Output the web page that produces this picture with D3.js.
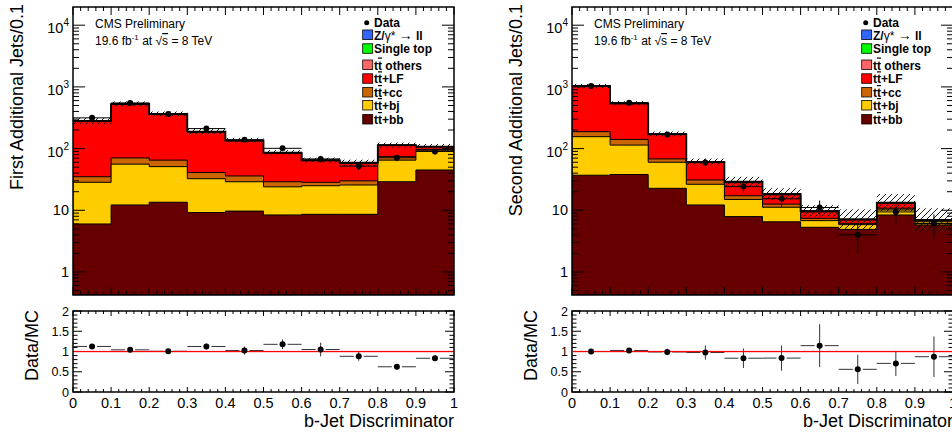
<!DOCTYPE html>
<html><head><meta charset="utf-8">
<script src="https://cdn.jsdelivr.net/npm/d3@7"></script>
<style>
body{margin:0;background:#fff}
svg{display:block}
text{font-family:"Liberation Sans",Arial,Helvetica,sans-serif}
</style>
</head><body>
<svg id="c" width="952" height="435"></svg>
<script>
// ---------- data ----------
const binLow = [0.0, 0.1, 0.2, 0.3, 0.4, 0.5, 0.6, 0.7, 0.8, 0.9];
const binWidth = 0.1;
const xTickLabels = ["0","0.1","0.2","0.3","0.4","0.5","0.6","0.7","0.8","0.9","1"];
const yTickValues = [1, 10, 100, 1000, 10000];
const yTickLabels = [["1",""],["10",""],["10","2"],["10","3"],["10","4"]];
const ratioTickValues = [0, 0.5, 1, 1.5, 2];
const ratioTickLabels = ["0","0.5","1","1.5","2"];
const processNames = ["tt+bb","tt+bj","tt+cc","tt+LF","tt others","Single top","Z/γ* → ll"];
const processColors = ["#660000","#ffcc00","#cc6600","#ff0000","#ff6666","#00ff00","#3366ff"];

// First additional jets
const first_bb     = [6.0, 12.2, 13.5, 9.2, 9.7, 8.4, 8.6, 8.6, 29, 45];
const first_bj     = [22.4, 43.8, 37.5, 23.3, 19.3, 15.6, 16.4, 17.1, 36, 47];
const first_cc     = [6.6, 14.5, 14.0, 8.5, 7.0, 5.0, 3.4, 4.3, 9, 5];
const first_lf     = [239, 448, 291, 143, 97, 55, 35, 27.8, 37.8, 9.2];
const first_others = [3.5, 5.5, 4, 2.2, 1.6, 1.0, 0.8, 0.7, 1.2, 1.0];
const first_st     = [1.8, 3, 2, 1.2, 0.9, 0.6, 0.5, 0.4, 0.8, 0.6];
const first_z      = [0.7, 1, 0.8, 0.4, 0.3, 0.2, 0.1, 0.1, 0.2, 0.2];
const first_data   = [315, 550, 365, 211, 139, 101, 68, 52, 71, 90];
const first_dataErr = [17.7, 23.5, 19.1, 14.5, 11.8, 10, 8.2, 7.2, 8.4, 9.5];
const first_ratioErr = [0.06, 0.04, 0.05, 0.07, 0.1, 0.12, 0.17, 0.11, 0.07, 0.07];
const first_mcUnc  = [0.12, 0.1, 0.1, 0.11, 0.1, 0.1, 0.1, 0.12, 0.1, 0.1];

// Second additional jets
const second_bb     = [37, 38, 22.7, 12.2, 7.9, 6.5, 5.3, 4.9, 8.4, 5.8];
const second_bj     = [119, 76, 37.3, 14.2, 7.1, 4.7, 1.5, 0.95, 1.7, 0.7];
const second_cc     = [32, 27, 8, 4.6, 2.2, 1.4, 0.6, 0.3, 0.7, 0.2];
const second_lf     = [830, 392, 100.6, 28.5, 10.9, 5.25, 2.0, 0.8, 2.2, 0.15];
const second_others = [10, 5, 2, 0.8, 0.5, 0.3, 0.2, 0.1, 0.2, 0.1];
const second_st     = [5, 3, 1, 0.5, 0.3, 0.2, 0.1, 0.1, 0.1, 0.05];
const second_z      = [2, 1, 0.4, 0.2, 0.1, 0.05, 0, 0, 0, 0];
const second_data   = [1035, 556, 170, 59.5, 24.2, 15.4, 11.1, 4.0, 9.4, 6.1];
const second_dataErr = [32, 23.6, 13, 7.7, 5, 4, 3.3, 2.0, 3.2, 2.5];
const second_ratioErr = [0.03, 0.04, 0.08, 0.175, 0.24, 0.31, 0.53, 0.36, 0.31, 0.5];
const second_mcUnc  = [0.08, 0.08, 0.1, 0.13, 0.2, 0.24, 0.25, 0.45, 0.38, 0.54];

// ---------- drawing ----------
const svg = d3.select("#c");
const defs = svg.append("defs");
const pat = defs.append("pattern").attr("id","hatch").attr("patternUnits","userSpaceOnUse")
  .attr("width",6).attr("height",6);
pat.append("path").attr("d","M0,6 L6,0 M-1.5,1.5 L1.5,-1.5 M4.5,7.5 L7.5,4.5")
  .attr("stroke","#000").attr("stroke-width",0.9).attr("fill","none");

function ttLabel(t, rest){
  t.append("tspan").text("t");
  t.append("tspan").attr("text-decoration","overline").text("t");
  t.append("tspan").text(rest);
}

function panel(cfg){
  const L = cfg.left, R = L + 381, T = 7, B = 295, RT = 311, RB = 392;
  const x = d3.scaleLinear().domain([0,1]).range([L,R]);
  const y = d3.scaleLog().domain([Math.pow(10,-0.373), Math.pow(10,4.295)]).range([B,T]);
  const yr = d3.scaleLinear().domain([0,2]).range([RB,RT]);
  const g = svg.append("g");
  const clipId = "clip"+cfg.id;
  defs.append("clipPath").attr("id",clipId).append("rect")
    .attr("x",L).attr("y",T).attr("width",R-L).attr("height",B-T);
  const gm = g.append("g").attr("clip-path",`url(#${clipId})`);

  const comps = cfg.stack;
  const cum = [];
  let run = binLow.map(()=>0);
  comps.forEach(c=>{ run = run.map((v,i)=>v + c[i]); cum.push(run.slice()); });
  const total = cum[cum.length-1];

  const stepArea = vals => {
    let d = `M${x(0)},${B}`;
    binLow.forEach((b,i)=>{ const v = Math.max(vals[i],1e-3);
      d += `L${x(b)},${y(v)}L${x(b+binWidth)},${y(v)}`; });
    return d + `L${x(1)},${B}Z`;
  };
  const stepLine = vals => {
    let d = "";
    binLow.forEach((b,i)=>{ d += (i? "L":"M") + `${x(b)},${y(vals[i])}L${x(b+binWidth)},${y(vals[i])}`; });
    return d;
  };
  for (let k = cum.length-1; k >= 0; k--){
    gm.append("path").attr("d", stepArea(cum[k])).attr("fill", processColors[k])
      .attr("stroke","#000").attr("stroke-width",1);
  }
  // uncertainty band
  gm.selectAll("rect.unc").data(binLow).enter().append("rect")
    .attr("x", d=>x(d)).attr("width", d=>x(d+binWidth)-x(d))
    .attr("y", (d,i)=>y(total[i]*(1+cfg.unc[i])))
    .attr("height", (d,i)=>y(total[i]/(1+cfg.unc[i])) - y(total[i]*(1+cfg.unc[i])))
    .attr("fill","url(#hatch)");
  gm.append("path").attr("d", stepLine(total)).attr("fill","none").attr("stroke","#000").attr("stroke-width",1.8);

  // data points
  binLow.forEach((b,i)=>{
    const cx = x(b+binWidth/2), cy = y(cfg.data[i]);
    gm.append("line").attr("x1",x(b)).attr("x2",x(b+binWidth)).attr("y1",cy).attr("y2",cy)
      .attr("stroke","#000").attr("stroke-width",1);
    gm.append("line").attr("x1",cx).attr("x2",cx)
      .attr("y1",y(Math.max(cfg.data[i]-cfg.dataErr[i],0.01))).attr("y2",y(cfg.data[i]+cfg.dataErr[i]))
      .attr("stroke","#000").attr("stroke-width",1);
    gm.append("circle").attr("cx",cx).attr("cy",cy).attr("r",3).attr("fill","#000");
  });

  // main frame
  g.append("rect").attr("x",L).attr("y",T).attr("width",R-L).attr("height",B-T)
    .attr("fill","none").attr("stroke","#000").attr("stroke-width",1.5);
  // y ticks (log)
  const yt = [];
  for (let e = -1; e <= 4; e++) for (let m = 1; m <= 9; m++){
    const v = m*Math.pow(10,e);
    if (v >= y.domain()[0] && v <= y.domain()[1]) yt.push({v, major: m===1});
  }
  yt.forEach(t=>{
    const len = t.major ? 12 : 6, yy = y(t.v);
    g.append("line").attr("x1",L).attr("x2",L+len).attr("y1",yy).attr("y2",yy).attr("stroke","#000").attr("stroke-width",1);
    g.append("line").attr("x1",R).attr("x2",R-len).attr("y1",yy).attr("y2",yy).attr("stroke","#000").attr("stroke-width",1);
  });
  yTickValues.forEach((v,i)=>{
    const lab = yTickLabels[i];
    const t = g.append("text").attr("x",L-4).attr("y", y(v) + (lab[1] ? 8 : 5))
      .attr("text-anchor","end").attr("font-size",14.5).attr("fill","#000");
    t.append("tspan").text(lab[0]);
    if (lab[1]) t.append("tspan").attr("dy",-7).attr("font-size",10).text(lab[1]);
  });
  // x ticks (main + ratio)
  for (let j = 0; j <= 50; j++){
    const xx = x(j/50), major = (j % 5 === 0);
    const lm = major ? 8 : 4;
    g.append("line").attr("x1",xx).attr("x2",xx).attr("y1",B).attr("y2",B-lm).attr("stroke","#000");
    g.append("line").attr("x1",xx).attr("x2",xx).attr("y1",T).attr("y2",T+lm).attr("stroke","#000");
    const lr = major ? 5 : 3;
    g.append("line").attr("x1",xx).attr("x2",xx).attr("y1",RB).attr("y2",RB-lr).attr("stroke","#000");
    g.append("line").attr("x1",xx).attr("x2",xx).attr("y1",RT).attr("y2",RT+lr).attr("stroke","#000");
  }
  xTickLabels.forEach((s,i)=>{
    g.append("text").attr("x",x(i/10)).attr("y",408).attr("text-anchor","middle")
      .attr("font-size",14.5).text(s);
  });

  // ratio frame
  g.append("rect").attr("x",L).attr("y",RT).attr("width",R-L).attr("height",RB-RT)
    .attr("fill","none").attr("stroke","#000").attr("stroke-width",1.5);
  for (let j = 0; j <= 20; j++){
    const yy = yr(j/10), major = (j % 5 === 0), len = major ? 9 : 4.5;
    g.append("line").attr("x1",L).attr("x2",L+len).attr("y1",yy).attr("y2",yy).attr("stroke","#000");
    g.append("line").attr("x1",R).attr("x2",R-len).attr("y1",yy).attr("y2",yy).attr("stroke","#000");
  }
  ratioTickValues.forEach((v,i)=>{
    g.append("text").attr("x",L-4).attr("y",yr(v)+4.5).attr("text-anchor","end")
      .attr("font-size",12.5).text(ratioTickLabels[i]);
  });
  const gr = g.append("g");
  binLow.forEach((b,i)=>{
    const r = cfg.data[i]/total[i], e = cfg.ratioErr[i];
    const cx = x(b+binWidth/2), cy = yr(r);
    gr.append("line").attr("x1",x(b)).attr("x2",cx-5).attr("y1",cy).attr("y2",cy).attr("stroke","#333");
    gr.append("line").attr("x1",cx+5).attr("x2",x(b+binWidth)).attr("y1",cy).attr("y2",cy).attr("stroke","#333");
    gr.append("line").attr("x1",cx).attr("x2",cx).attr("y1",yr(r-e)).attr("y2",yr(r+e)).attr("stroke","#333");
  });
  gr.append("rect").attr("x",L+1).attr("width",R-L-2).attr("y",yr(1)-0.6).attr("height",1.3)
    .attr("fill","#ff0000");
  binLow.forEach((b,i)=>{
    const r = cfg.data[i]/total[i];
    gr.append("circle").attr("cx",x(b+binWidth/2)).attr("cy",yr(r)).attr("r",3).attr("fill","#000");
  });

  // titles
  g.append("text").attr("transform",`translate(${L-50},4) rotate(-90)`).attr("text-anchor","end")
    .attr("font-size",18).text(cfg.ytitle);
  g.append("text").attr("transform",`translate(${L-35},${RT-1}) rotate(-90)`).attr("text-anchor","end")
    .attr("font-size",18).text("Data/MC");
  g.append("text").attr("x",R).attr("y",427).attr("text-anchor","end").attr("font-size",18)
    .text("b-Jet Discriminator");

  // CMS label
  g.append("text").attr("x",L+22).attr("y",28).attr("font-size",12).text("CMS Preliminary");
  const lum = g.append("text").attr("x",L+22).attr("y",45).attr("font-size",12);
  lum.append("tspan").text("19.6 fb");
  lum.append("tspan").attr("dy",-5).attr("font-size",8).text("-1");
  lum.append("tspan").attr("dy",5).text(" at ");
  lum.append("tspan").text("√");
  lum.append("tspan").attr("text-decoration","overline").text("s");
  lum.append("tspan").text(" = 8 TeV");

  // legend
  const bx = R - 91.3, tx = R - 80;
  g.append("circle").attr("cx",R-87.3).attr("cy",22.8).attr("r",2.5).attr("fill","#000");
  g.append("text").attr("x",tx).attr("y",26.8).attr("font-size",12).attr("font-weight","bold").text("Data");
  const rows = [
    {k:6, base:39.5}, {k:5, base:53.3}, {k:4, base:69.5}, {k:3, base:83.3},
    {k:2, base:97}, {k:1, base:110}, {k:0, base:124}
  ];
  rows.forEach(rw=>{
    g.append("rect").attr("x",bx).attr("y",rw.base-9.5).attr("width",10).attr("height",9.5)
      .attr("fill",processColors[rw.k]).attr("stroke","#000").attr("stroke-width",0.8);
    const t = g.append("text").attr("x",tx).attr("y",rw.base).attr("font-size",12).attr("font-weight","bold");
    const name = processNames[rw.k];
    if (rw.k === 6){
      t.append("tspan").text("Z/");
      t.append("tspan").attr("font-weight","normal").text("γ* ");
      t.append("tspan").attr("font-weight","normal").attr("font-size",14).text("→");
      t.append("tspan").text(" ll");
    } else if (name.startsWith("tt")){
      ttLabel(t, name.slice(2));
    } else {
      t.text(name);
    }
  });
}

panel({id:"a", left:73, ytitle:"First Additional Jets/0.1",
  stack:[first_bb, first_bj, first_cc, first_lf, first_others, first_st, first_z],
  data:first_data, dataErr:first_dataErr, ratioErr:first_ratioErr, unc:first_mcUnc});
panel({id:"b", left:572, ytitle:"Second Additional Jets/0.1",
  stack:[second_bb, second_bj, second_cc, second_lf, second_others, second_st, second_z],
  data:second_data, dataErr:second_dataErr, ratioErr:second_ratioErr, unc:second_mcUnc});
</script>
</body></html>
